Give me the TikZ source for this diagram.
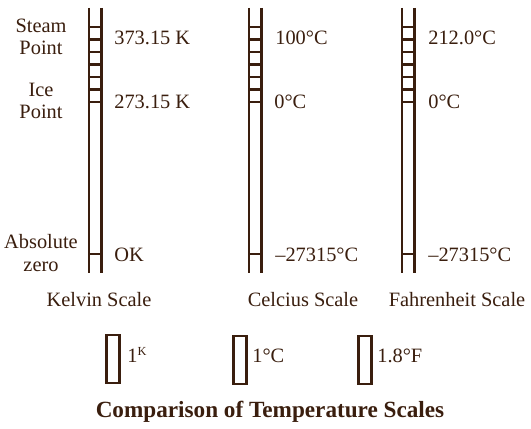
\documentclass[tikz,border=0pt]{standalone}
\usepackage{fontspec}
\setmainfont{Liberation Serif}
\usetikzlibrary{positioning}
\definecolor{ink}{RGB}{58,30,14}
\tikzset{
  rail/.style = {draw=ink, line width=1.4pt},
  rung/.style = {draw=ink, line width=1.3pt},
  val/.style = {anchor=west, inner sep=0pt, text=ink,
    font=\fontsize{11.6}{12.8}\selectfont},
  pt/.style = {align=center, inner sep=0pt, text=ink,
    font=\fontsize{11.6}{12.8}\selectfont},
  scl/.style = {inner sep=0pt, text=ink, font=\fontsize{11.6}{12.8}\selectfont},
  unitbox/.style = {draw=ink, line width=1.4pt, inner sep=0pt,
    minimum width=0.26cm, minimum height=0.96cm},
  ttl/.style = {inner sep=0pt, text=ink,
    font=\fontsize{13.2}{14}\selectfont\bfseries}
}

\begin{document}
\begin{tikzpicture}[x=0.02cm, y=-0.02cm]
  \useasboundingbox [fill=white] (0,0) rectangle (531,429);
  % the three ladders
  \foreach \lx in {89, 249, 402} {
    \draw [rail] (\lx,8) -- (\lx,273);
    \draw [rail] (\lx+12.5,8) -- (\lx+12.5,273);
    \foreach \ry in {27, 39.5, ..., 102}
      \draw [rung] (\lx,\ry) -- (\lx+12.5,\ry);
    \draw [rung] (\lx,254) -- (\lx+12.5,254);
  }
  % fixed points
  \node [pt] (steam) at (41,37) {Steam\\Point};
  \node [pt] (ice) at (41,101) {Ice\\Point};
  \node [pt] (abs) at (41,253) {Absolute\\zero};
  % values
  \node [val] (k1) at (114,38) {373.15 K};
  \node [val] (k2) at (114,102) {273.15 K};
  \node [val] (k3) at (114,255) {OK};
  \node [val] (c1) at (275,38) {100°C};
  \node [val] (c2) at (274,102) {0°C};
  \node [val] (c3) at (275,255) {–27315°C};
  \node [val] (f1) at (428,38) {212.0°C};
  \node [val] (f2) at (428,102) {0°C};
  \node [val] (f3) at (428,255) {–27315°C};
  % scale names
  \node [scl] (kel) at (99,300) {Kelvin Scale};
  \node [scl] (cel) at (303,300) {Celcius Scale};
  \node [scl] (fah) at (457,300) {Fahrenheit Scale};
  % unit boxes
  \node [unitbox] (bk) at (113,359) {};
  \node [unitbox] (bc) at (240,360) {};
  \node [unitbox] (bf) at (365,360) {};
  \node [val] (uk) at (127,355) {1\textsuperscript{\scriptsize K}};
  \node [val] (uc) at (252,356) {1°C};
  \node [val] (uf) at (377,356) {1.8°F};
  \node [ttl] (title) at (270,412) {Comparison of Temperature Scales};
\end{tikzpicture}
\end{document}
